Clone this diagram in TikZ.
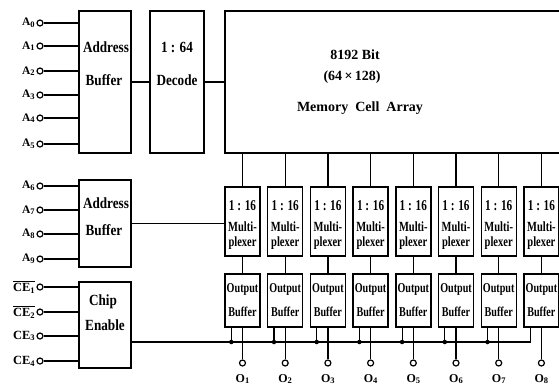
\documentclass[tikz,border=0pt]{standalone}
\usepackage{fontspec}
\setmainfont{Liberation Serif}
\newfontfamily\cnd{Liberation Serif}[FakeStretch=0.85]
\newfontfamily\ccnd{Liberation Serif}[FakeStretch=0.75]
\newcommand\sub[1]{\raisebox{-0.3ex}{\fontsize{8.5}{8.5}\selectfont #1}}
\begin{document}
\begin{tikzpicture}[x=1pt, y=-1pt,
  box/.style={draw, line width=1.4pt, inner sep=0pt},
  wire/.style={line width=1.2pt},
  pin/.style={circle, draw, line width=1.2pt, fill=white, minimum size=6pt, inner sep=0pt},
  dot/.style={circle, fill, minimum size=4.5pt, inner sep=0pt},
  blbl/.style={font=\cnd\bfseries\fontsize{15.5}{16}\selectfont, inner sep=0pt},
  mlbl/.style={font=\ccnd\bfseries\fontsize{14}{14}\selectfont, inner sep=0pt},
  nlbl/.style={font=\ccnd\bfseries\fontsize{15}{15}\selectfont, inner sep=0pt},
  olbl/.style={font=\ccnd\bfseries\fontsize{13.5}{14}\selectfont, inner sep=0pt},
  memlbl/.style={font=\bfseries\fontsize{14}{15}\selectfont, inner sep=0pt},
  plbl/.style={font=\bfseries\fontsize{11.5}{12}\selectfont, inner sep=0pt, anchor=east},
  outlbl/.style={font=\bfseries\fontsize{12}{12}\selectfont, inner sep=0pt}]
\useasboundingbox (0,0) rectangle (559,386);
\clip (0,0) rectangle (559,386);

% main blocks
\node[box, minimum width=52pt, minimum height=142pt] (ab1) at (105,82) {};
\node[box, minimum width=54pt, minimum height=142pt] (dec) at (177,82) {};
\node[box, minimum width=337pt, minimum height=142pt] (mem) at (393.5,82) {};
\node[box, minimum width=52pt, minimum height=87pt] (ab2) at (105,223.5) {};
\node[box, minimum width=52pt, minimum height=86pt] (ce) at (105,325) {};

% block texts
\node[blbl] (t1) at (106,47) {Address};
\node[blbl] (t2) at (104,80) {Buffer};
\node[blbl] (t3) at (177,47) {1 : 64};
\node[blbl] (t4) at (177,80) {Decode};
\node[memlbl] (t5) at (355,55) {8192 Bit};
\node[memlbl] (t6) at (352,77) {(64\,×\,128)};
\node[memlbl] (t7) at (360,108) {Memory\ \ Cell\ \ Array};
\node[blbl] (t8) at (106,203) {Address};
\node[blbl] (t9) at (104,230) {Buffer};
\node[blbl] (t10) at (103,302) {Chip};
\node[blbl] (t11) at (105,325) {Enable};

% connections between blocks
\draw[wire] (ab1.east) -- (dec.west);
\draw[wire] (dec.east) -- (mem.west);

% address inputs A0-A5
\foreach \n/\y in {0/23,1/46,2/71,3/95,4/118,5/144} {
  \node[pin] (a\n) at (40,\y) {};
  \node[plbl] (la\n) at ([xshift=-1.5pt]a\n.west) {A\sub{\n}};
  \draw[wire] (a\n.east) -- (a\n.east -| ab1.west);
}
% address inputs A6-A9
\foreach \n/\y in {6/186,7/210,8/234,9/259} {
  \node[pin] (a\n) at (40,\y) {};
  \node[plbl] (la\n) at ([xshift=-1.5pt]a\n.west) {A\sub{\n}};
  \draw[wire] (a\n.east) -- (a\n.east -| ab2.west);
}
% chip enable inputs
\node[pin] (c1) at (40,287) {};
\node[pin] (c2) at (40,312) {};
\node[pin] (c3) at (40,336) {};
\node[pin] (c4) at (40,361) {};
\node[plbl, font=\bfseries\fontsize{12.5}{13}\selectfont] (lc1) at ([xshift=-1.5pt]c1.west) {$\overline{\hbox{CE\sub{1}}}$};
\node[plbl, font=\bfseries\fontsize{12.5}{13}\selectfont] (lc2) at ([xshift=-1.5pt]c2.west) {$\overline{\hbox{CE\sub{2}}}$};
\node[plbl, font=\bfseries\fontsize{12.5}{13}\selectfont] (lc3) at ([xshift=-1.5pt]c3.west) {CE\sub{3}};
\node[plbl, font=\bfseries\fontsize{12.5}{13}\selectfont] (lc4) at ([xshift=-1.5pt]c4.west) {CE\sub{4}};
\foreach \n in {1,2,3,4} {
  \draw[wire] (c\n.east) -- (c\n.east -| ce.west);
}

% multiplexers and output buffers
\foreach \i in {1,...,8} {
  \pgfmathsetmacro\cx{242.5+42.7*(\i-1)}
  \node[box, minimum width=35pt, minimum height=69pt] (mux\i) at (\cx,221.5) {};
  \node[box, minimum width=35pt, minimum height=53pt] (ob\i) at (\cx,300.5) {};
  \node[nlbl] (m1\i) at (\cx,206) {1 : 16};
  \node[mlbl] (m2\i) at (\cx,227) {Multi-};
  \node[mlbl] (m3\i) at (\cx,243) {plexer};
  \node[olbl] (b1\i) at (\cx,289) {Output};
  \node[olbl] (b2\i) at (\cx,312) {Buffer};
  \draw[wire] (mem.south -| mux\i.north) -- (mux\i.north);
  \draw[wire] (mux\i.south) -- (ob\i.north);
  \node[pin] (o\i) at (\cx,363) {};
  \draw[wire] (ob\i.south) -- (o\i.north);
  \node[outlbl] (ol\i) at (\cx,379) {O\sub{\i}};
  \coordinate (tap\i) at ([xshift=7pt]ob\i.south west);
}

% address buffer 2 to multiplexer 1
\draw[wire] (ab2.east) -- (ab2.east -| mux1.west);

% chip enable bus
\coordinate (busend) at (tap8 |- 0,342);
\draw[wire] (ce.east |- busend) -- (busend) -- (tap8);
\foreach \i in {1,...,7} {
  \draw[wire] (tap\i) -- (tap\i |- busend) node[dot] (d\i) {};
}
\end{tikzpicture}
\end{document}
